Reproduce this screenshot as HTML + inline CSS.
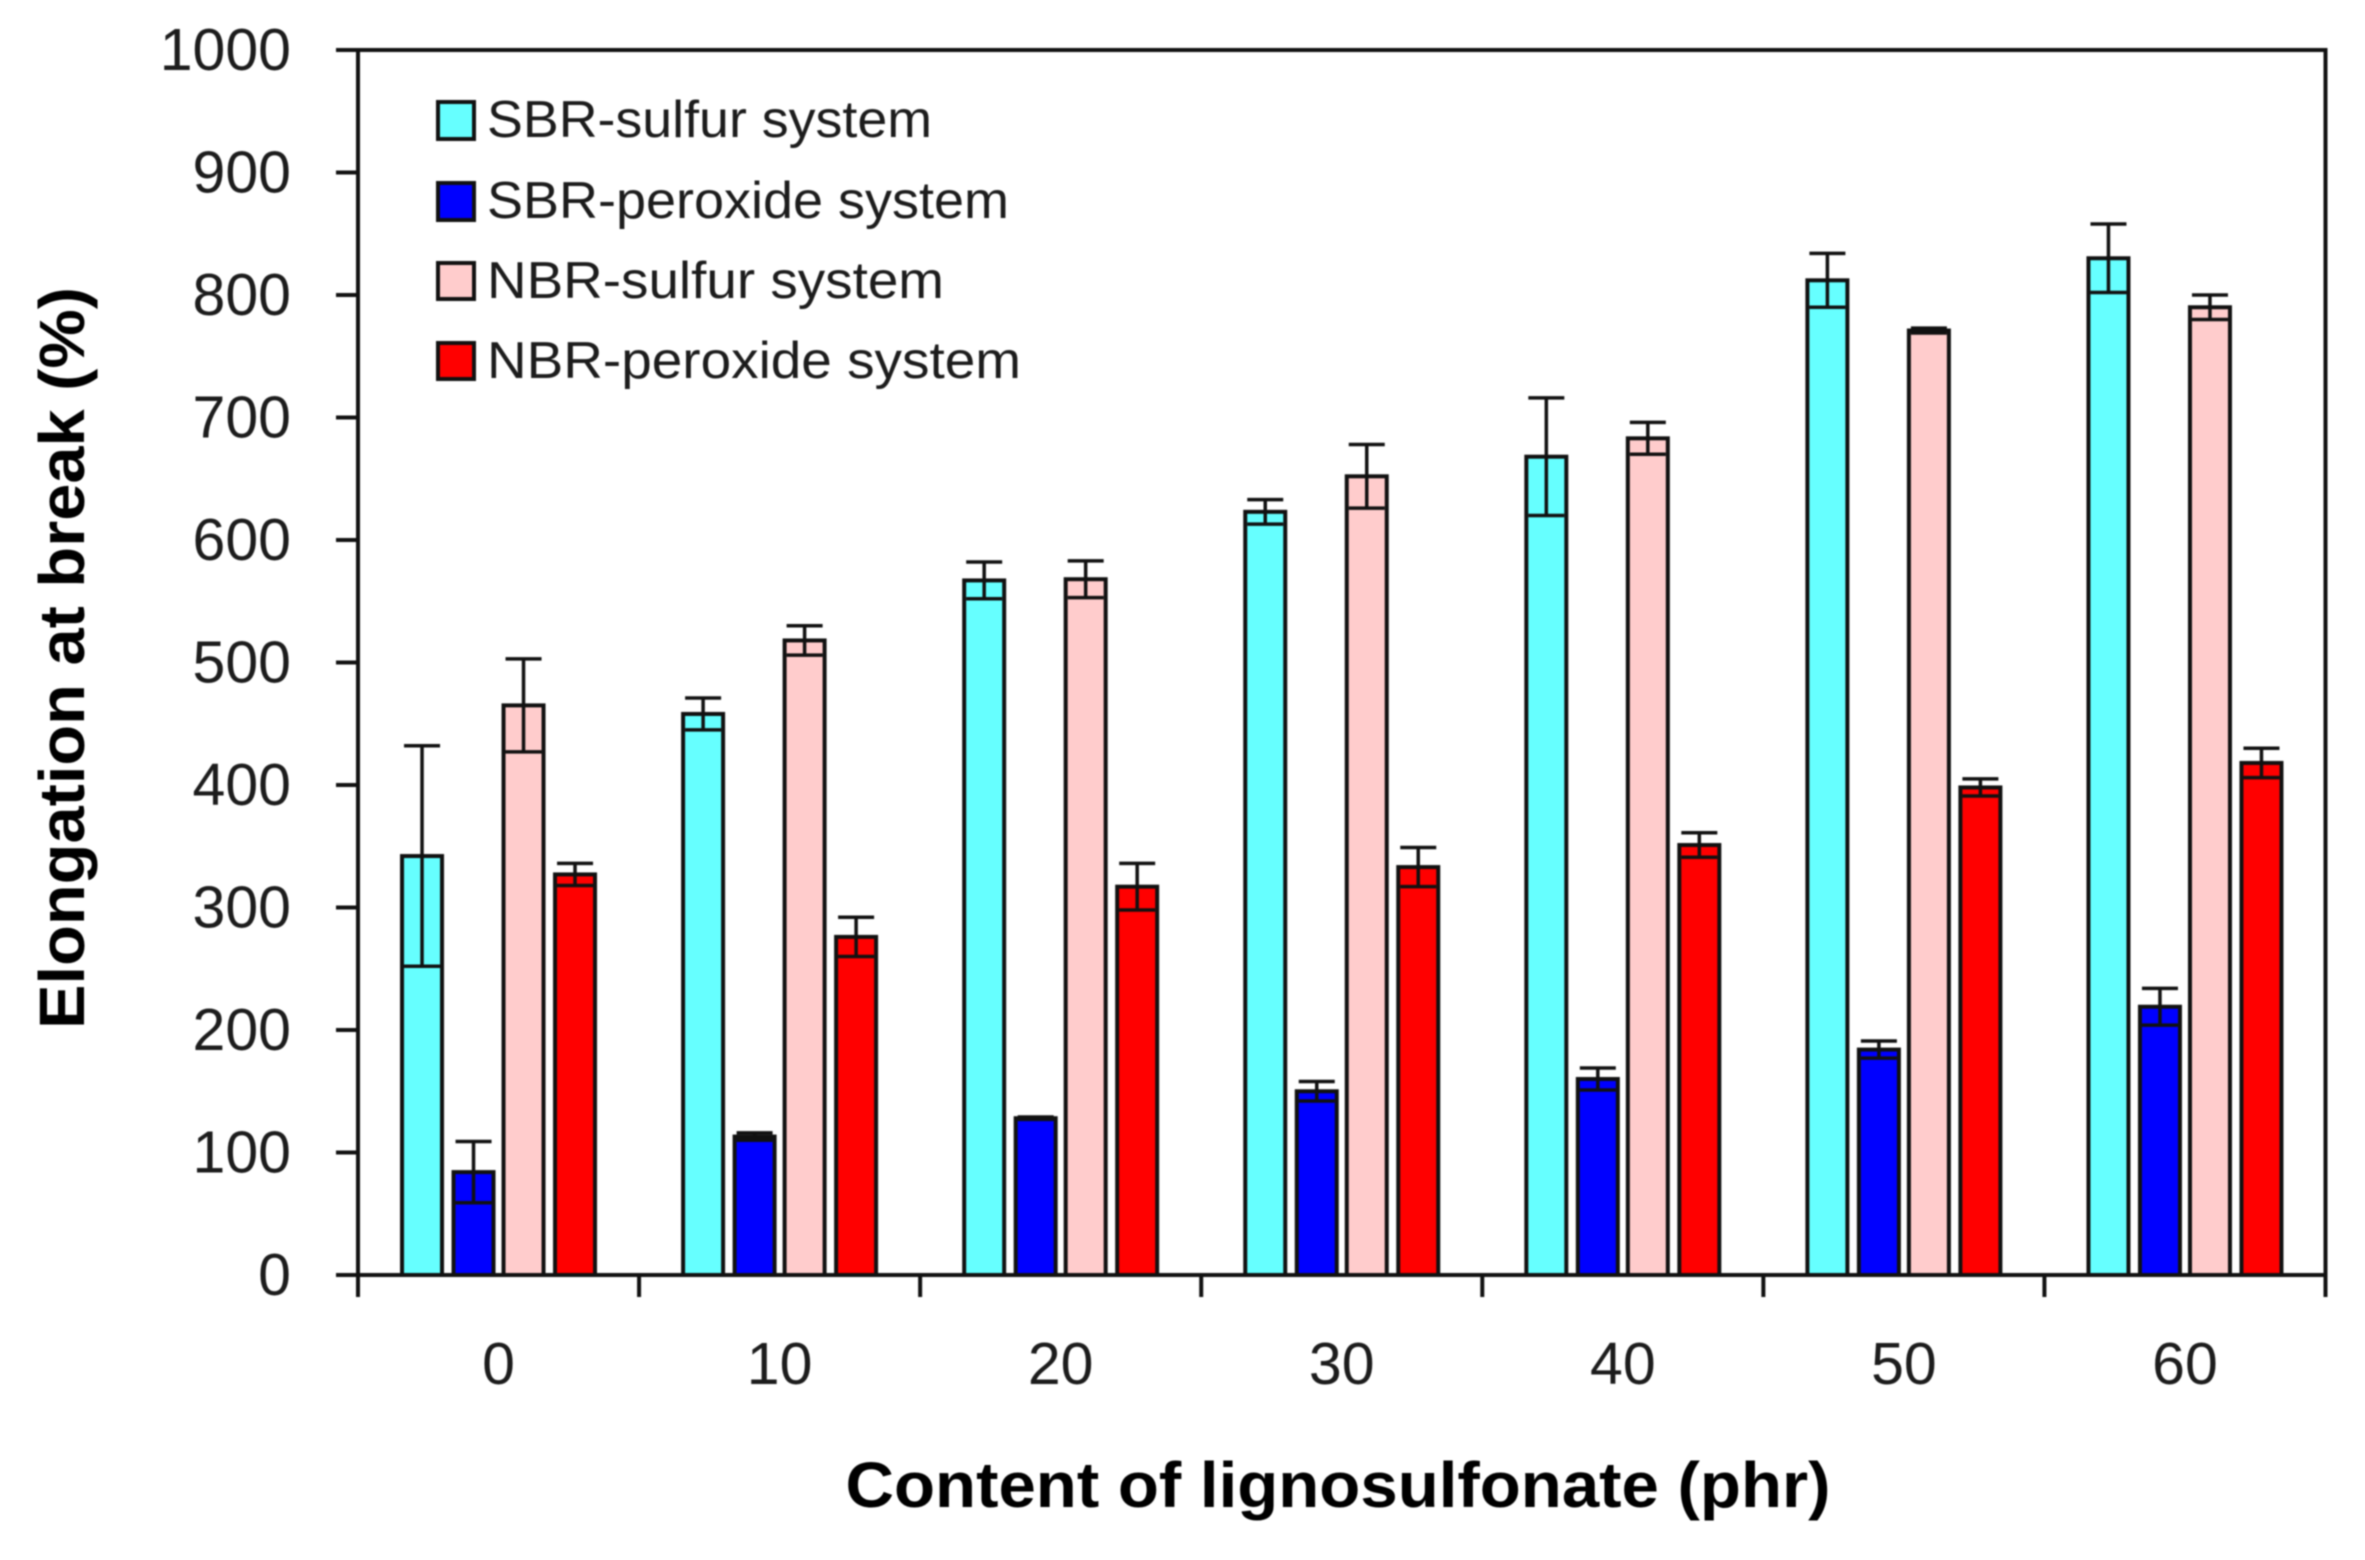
<!DOCTYPE html>
<html lang="en">
<head>
<meta charset="utf-8">
<title>Elongation at break vs. lignosulfonate content</title>
<style>
html,body{margin:0;padding:0;background:#fff}
svg{display:block;filter:blur(0.8px)}
text{font-family:"Liberation Sans",sans-serif;fill:#1c1c1c}
</style>
</head>
<body>
<svg id="chart" xmlns="http://www.w3.org/2000/svg" width="2365" height="1560" viewBox="0 0 2365 1560">
  <rect x="0" y="0" width="2365" height="1560" fill="#fff"/>
  <text transform="translate(84,658) rotate(-90)" text-anchor="middle" font-size="64" font-weight="bold" textLength="742" lengthAdjust="spacingAndGlyphs" style="fill:#000">Elongation at break (%)</text>
  <text x="1338" y="1507" text-anchor="middle" font-size="64" font-weight="bold" textLength="985" lengthAdjust="spacingAndGlyphs" style="fill:#000">Content of lignosulfonate (phr)</text>
  <g id="legend">
    <rect x="438" y="102" width="36" height="37" fill="#66ffff" stroke="#111" stroke-width="4"/>
    <text x="487" y="137" font-size="52" textLength="445" lengthAdjust="spacingAndGlyphs">SBR-sulfur system</text>
    <rect x="438" y="183" width="36" height="37" fill="#0000ff" stroke="#111" stroke-width="4"/>
    <text x="487" y="218" font-size="52" textLength="522" lengthAdjust="spacingAndGlyphs">SBR-peroxide system</text>
    <rect x="438" y="263" width="36" height="36" fill="#ffcccc" stroke="#111" stroke-width="4"/>
    <text x="487" y="298" font-size="52" textLength="457" lengthAdjust="spacingAndGlyphs">NBR-sulfur system</text>
    <rect x="438" y="343" width="36" height="36" fill="#ff0000" stroke="#111" stroke-width="4"/>
    <text x="487" y="378" font-size="52" textLength="534" lengthAdjust="spacingAndGlyphs">NBR-peroxide system</text>
  </g>
</svg>
<script>
const categories = ['0', '10', '20', '30', '40', '50', '60'];
const yTickLabels = [0, 100, 200, 300, 400, 500, 600, 700, 800, 900, 1000];
const sbrSulfurValues = [342, 458, 567, 623, 668, 812, 830];
const sbrSulfurErrors = [90, 13, 15, 10, 48, 22, 28];
const sbrPeroxideValues = [84, 113, 128, 150, 160, 184, 219];
const sbrPeroxideErrors = [25, 3, 1, 8, 9, 7, 15];
const nbrSulfurValues = [465, 518, 568, 652, 683, 771, 790];
const nbrSulfurErrors = [38, 12, 15, 26, 13, 2, 10];
const nbrPeroxideValues = [327, 276, 317, 333, 351, 398, 418];
const nbrPeroxideErrors = [9, 16, 19, 16, 10, 7, 12];

const NS = 'http://www.w3.org/2000/svg';
const svg = document.getElementById('chart');
const legend = document.getElementById('legend');
const plot = { left: 358, right: 2325.5, top: 50, bottom: 1275 };
const yMax = 1000;
const y = v => plot.bottom - (v / yMax) * (plot.bottom - plot.top);
const bandW = () => (plot.right - plot.left) / categories.length;
const bandCenter = i => plot.left + bandW() * (i + 0.5);

const seriesList = [
  { key: 'sbr-sulfur', values: sbrSulfurValues, errors: sbrSulfurErrors, fill: '#66ffff', offset: -76.5 },
  { key: 'sbr-peroxide', values: sbrPeroxideValues, errors: sbrPeroxideErrors, fill: '#0000ff', offset: -25 },
  { key: 'nbr-sulfur', values: nbrSulfurValues, errors: nbrSulfurErrors, fill: '#ffcccc', offset: 25 },
  { key: 'nbr-peroxide', values: nbrPeroxideValues, errors: nbrPeroxideErrors, fill: '#ff0000', offset: 76.5 }
];

function mk(tag, attrs) {
  const el = document.createElementNS(NS, tag);
  for (const k in attrs) el.setAttribute(k, attrs[k]);
  return el;
}
const root = mk('g', {});


svg.insertBefore(root, legend);

seriesList.forEach(s => {
  const group = mk('g', {});
  
  
  root.appendChild(group);
  s.values.forEach((v, i) => {
    const cx = bandCenter(i) + s.offset;
    const bar = mk('rect', { x: cx - 20, y: y(v), width: 40, height: y(0) - y(v), fill: s.fill, stroke: '#111', 'stroke-width': 4 });
    
    
    group.appendChild(bar);
    const e = s.errors[i];
    const err = mk('path', {
      d: 'M' + cx + ' ' + y(v + e) + 'V' + y(v - e) +
         'M' + (cx - 18) + ' ' + y(v + e) + 'H' + (cx + 18) +
         'M' + (cx - 18) + ' ' + y(v - e) + 'H' + (cx + 18),
      fill: 'none', stroke: '#111', 'stroke-width': 3.5
    });
    
    
    group.appendChild(err);
  });
});

const frame = mk('rect', { x: plot.left, y: plot.top, width: plot.right - plot.left, height: plot.bottom - plot.top, fill: 'none', stroke: '#111', 'stroke-width': 4 });


root.appendChild(frame);

yTickLabels.forEach(t => {
  const tick = mk('line', { x1: plot.left - 22, x2: plot.left, y1: y(t), y2: y(t), stroke: '#111', 'stroke-width': 4 });
  
  
  root.appendChild(tick);
  const label = mk('text', { x: 291, y: y(t) + 20, 'text-anchor': 'end', 'font-size': 59 });
  label.textContent = t;
  
  
  root.appendChild(label);
});

for (let i = 0; i <= categories.length; i++) {
  const x = plot.left + bandW() * i;
  const tick = mk('line', { x1: x, x2: x, y1: plot.bottom, y2: plot.bottom + 22, stroke: '#111', 'stroke-width': 4 });
  
  
  root.appendChild(tick);
}
categories.forEach((c, i) => {
  const label = mk('text', { x: bandCenter(i), y: 1384, 'text-anchor': 'middle', 'font-size': 59 });
  label.textContent = c;
  
  
  root.appendChild(label);
});
</script>
</body>
</html>
